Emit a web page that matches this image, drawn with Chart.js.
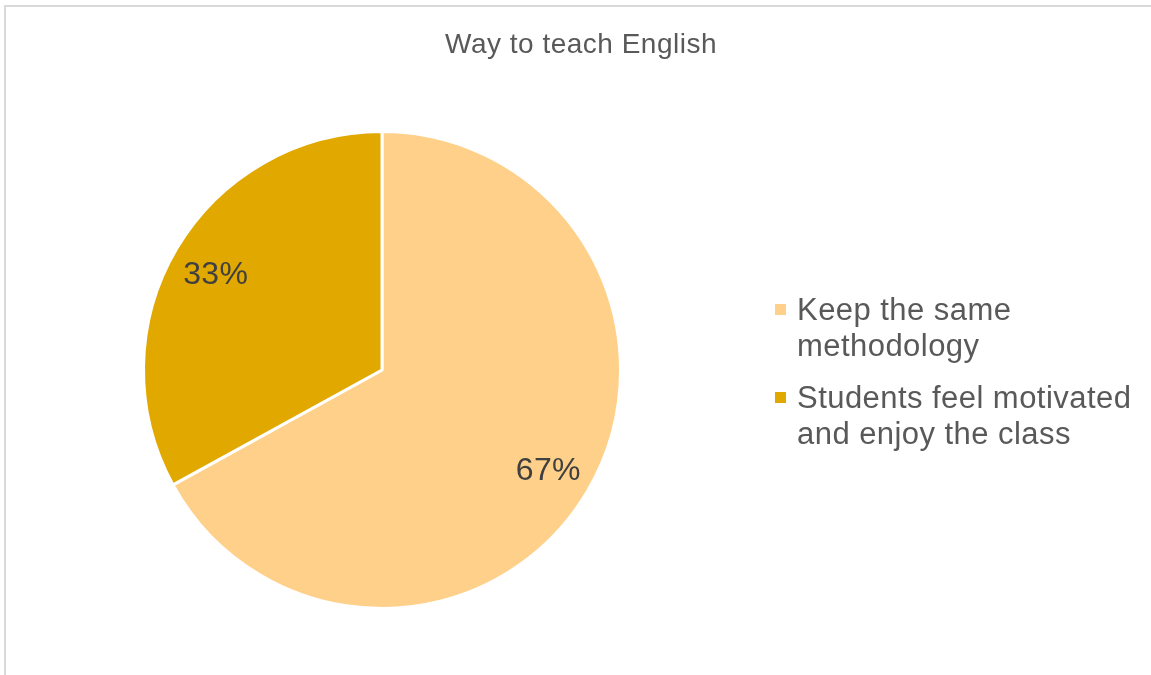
<!DOCTYPE html>
<html>
<head>
<meta charset="utf-8">
<title>Way to teach English</title>
<script src="https://cdn.jsdelivr.net/npm/chart.js@4/dist/chart.umd.min.js"></script>
<style>
  html, body { margin: 0; padding: 0; background: #ffffff; overflow: hidden; }
  #frame {
    position: absolute; left: 4px; top: 5px; width: 1160px; height: 668px;
    border-left: 2px solid #d9d9d9; border-top: 2px solid #d9d9d9;
  }
  #chart { position: absolute; left: 0; top: 0; }
</style>
</head>
<body>
<div id="frame"></div>
<canvas id="chart" width="1151" height="675"></canvas>
<script>
// Survey answers and their share of responses (%)
const chartTitle = 'Way to teach English';
const categories = ['Keep the same methodology', 'Students feel motivated and enjoy the class'];
const legendLines = [['Keep the same', 'methodology'], ['Students feel motivated', 'and enjoy the class']];
const shares = [67, 33];
const sliceColors = ['#FED089', '#E1A900'];

const FONT = '"Liberation Sans", Arial, sans-serif';

// Percentage labels placed inside each slice
const sliceLabels = {
  id: 'sliceLabels',
  afterDatasetsDraw(chart) {
    const ctx = chart.ctx;
    const meta = chart.getDatasetMeta(0);
    const values = chart.data.datasets[0].data;
    const total = values.reduce((a, b) => a + b, 0);
    ctx.save();
    ctx.font = '32px ' + FONT;
    ctx.letterSpacing = '0.3px';
    ctx.fillStyle = '#404040';
    ctx.textAlign = 'center';
    ctx.textBaseline = 'alphabetic';
    meta.data.forEach((arc, i) => {
      const p = arc.getProps(['x', 'y', 'startAngle', 'endAngle', 'outerRadius'], true);
      const mid = (p.startAngle + p.endAngle) / 2;
      const r = p.outerRadius * 0.81;
      const pct = Math.round(values[i] / total * 100) + '%';
      // baseline offset so the digits sit centred on the anchor point
      ctx.fillText(pct, p.x + Math.cos(mid) * r, p.y + Math.sin(mid) * r + 12);
    });
    ctx.restore();
  }
};

// Title and wrapped legend on the right
const titleAndLegend = {
  id: 'titleAndLegend',
  afterDraw(chart) {
    const ctx = chart.ctx;
    ctx.save();
    ctx.font = '28px ' + FONT;
    ctx.letterSpacing = '0.5px';
    ctx.fillStyle = '#595959';
    ctx.textAlign = 'center';
    ctx.textBaseline = 'alphabetic';
    ctx.fillText(chartTitle, 581, 53);

    ctx.font = '31px ' + FONT;
    ctx.letterSpacing = '0.45px';
    ctx.textAlign = 'left';
    const x0 = 775, lineH = 36;
    let y = 320;
    legendLines.forEach((lines, i) => {
      ctx.fillStyle = sliceColors[i];
      ctx.fillRect(x0, y - 16, 11, 11);
      ctx.fillStyle = '#595959';
      lines.forEach((t, k) => ctx.fillText(t, x0 + 22, y + k * lineH));
      y += lines.length * lineH + 16;
    });
    ctx.restore();
  }
};

new Chart(document.getElementById('chart'), {
  type: 'pie',
  data: {
    labels: categories,
    datasets: [{
      data: shares,
      backgroundColor: sliceColors,
      borderColor: '#ffffff',
      borderWidth: 3,
      hoverOffset: 0,
      offset: 0
    }]
  },
  options: {
    responsive: false,
    animation: false,
    layout: { padding: { left: 142, top: 130, right: 529, bottom: 65 } },
    plugins: {
      legend: { display: false },
      title: { display: false },
      tooltip: { enabled: false }
    }
  },
  plugins: [sliceLabels, titleAndLegend]
});
</script>
</body>
</html>
